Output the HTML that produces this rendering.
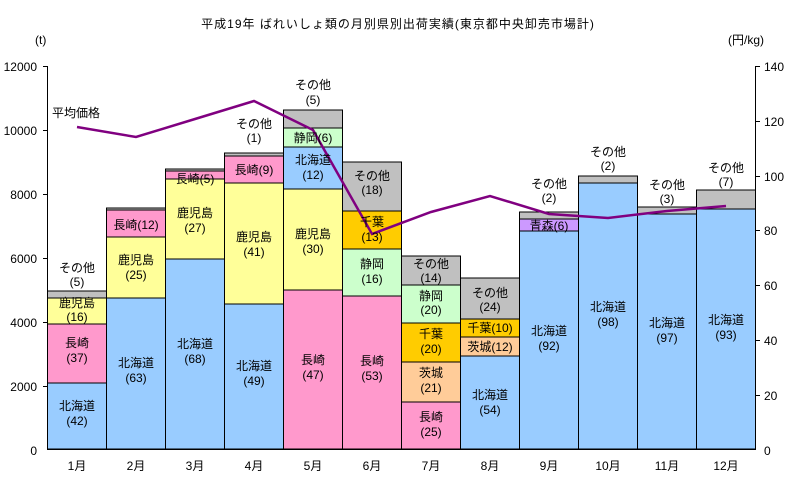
<!DOCTYPE html><html><head><meta charset="utf-8"><style>
body{margin:0;background:#fff}
text{font-family:"Liberation Sans","Noto Sans CJK JP",sans-serif;font-size:12px;fill:#000}
</style></head><body>
<svg width="792" height="488" xmlns="http://www.w3.org/2000/svg">
<text x="398" y="28" text-anchor="middle" font-size="14" letter-spacing="1">平成19年 ばれいしょ類の月別県別出荷実績(東京都中央卸売市場計)</text>
<text x="35" y="44" font-size="11">(t)</text>
<text x="728" y="44" font-size="11">(円/kg)</text>
<g stroke="#000" stroke-width="1">
<line x1="47.5" y1="66" x2="47.5" y2="450"/>
<line x1="755.5" y1="66" x2="755.5" y2="450"/>
<line x1="47" y1="449.5" x2="756" y2="449.5"/>
<line x1="43" y1="66.5" x2="47" y2="66.5"/><line x1="43" y1="130.5" x2="47" y2="130.5"/><line x1="43" y1="194.5" x2="47" y2="194.5"/><line x1="43" y1="258.5" x2="47" y2="258.5"/><line x1="43" y1="322.5" x2="47" y2="322.5"/><line x1="43" y1="386.5" x2="47" y2="386.5"/>
<line x1="756" y1="66.5" x2="760" y2="66.5"/><line x1="756" y1="121.5" x2="760" y2="121.5"/><line x1="756" y1="176.5" x2="760" y2="176.5"/><line x1="756" y1="230.5" x2="760" y2="230.5"/><line x1="756" y1="285.5" x2="760" y2="285.5"/><line x1="756" y1="340.5" x2="760" y2="340.5"/><line x1="756" y1="395.5" x2="760" y2="395.5"/>
</g>
<g text-anchor="end"><text x="37" y="71">12000</text><text x="37" y="135">10000</text><text x="37" y="199">8000</text><text x="37" y="263">6000</text><text x="37" y="327">4000</text><text x="37" y="391">2000</text><text x="37" y="455">0</text></g>
<g><text x="764" y="71">140</text><text x="764" y="126">120</text><text x="764" y="181">100</text><text x="764" y="235">80</text><text x="764" y="290">60</text><text x="764" y="345">40</text><text x="764" y="400">20</text><text x="764" y="455">0</text></g>
<g stroke="#000" stroke-width="1">
<rect x="47.5" y="383" width="59" height="66" fill="#99CCFF"/><rect x="47.5" y="324" width="59" height="59" fill="#FF99CC"/><rect x="47.5" y="298" width="59" height="26" fill="#FFFF99"/><rect x="47.5" y="291" width="59" height="7" fill="#C0C0C0"/>
<rect x="106.5" y="298" width="59" height="151" fill="#99CCFF"/><rect x="106.5" y="237" width="59" height="61" fill="#FFFF99"/><rect x="106.5" y="210" width="59" height="27" fill="#FF99CC"/><rect x="106.5" y="208" width="59" height="2" fill="#C0C0C0"/>
<rect x="165.5" y="259" width="59" height="190" fill="#99CCFF"/><rect x="165.5" y="179" width="59" height="80" fill="#FFFF99"/><rect x="165.5" y="171" width="59" height="8" fill="#FF99CC"/><rect x="165.5" y="169" width="59" height="2" fill="#C0C0C0"/>
<rect x="224.5" y="304" width="59" height="145" fill="#99CCFF"/><rect x="224.5" y="183" width="59" height="121" fill="#FFFF99"/><rect x="224.5" y="156" width="59" height="27" fill="#FF99CC"/><rect x="224.5" y="153" width="59" height="3" fill="#C0C0C0"/>
<rect x="283.5" y="290" width="59" height="159" fill="#FF99CC"/><rect x="283.5" y="189" width="59" height="101" fill="#FFFF99"/><rect x="283.5" y="147" width="59" height="42" fill="#99CCFF"/><rect x="283.5" y="128" width="59" height="19" fill="#CCFFCC"/><rect x="283.5" y="110" width="59" height="18" fill="#C0C0C0"/>
<rect x="342.5" y="296" width="59" height="153" fill="#FF99CC"/><rect x="342.5" y="249" width="59" height="47" fill="#CCFFCC"/><rect x="342.5" y="211" width="59" height="38" fill="#FFCC00"/><rect x="342.5" y="162" width="59" height="49" fill="#C0C0C0"/>
<rect x="401.5" y="402" width="59" height="47" fill="#FF99CC"/><rect x="401.5" y="362" width="59" height="40" fill="#FFCC99"/><rect x="401.5" y="323" width="59" height="39" fill="#FFCC00"/><rect x="401.5" y="285" width="59" height="38" fill="#CCFFCC"/><rect x="401.5" y="256" width="59" height="29" fill="#C0C0C0"/>
<rect x="460.5" y="356" width="59" height="93" fill="#99CCFF"/><rect x="460.5" y="337" width="59" height="19" fill="#FFCC99"/><rect x="460.5" y="319" width="59" height="18" fill="#FFCC00"/><rect x="460.5" y="278" width="59" height="41" fill="#C0C0C0"/>
<rect x="519.5" y="231" width="59" height="218" fill="#99CCFF"/><rect x="519.5" y="219" width="59" height="12" fill="#CC99FF"/><rect x="519.5" y="212" width="59" height="7" fill="#C0C0C0"/>
<rect x="578.5" y="183" width="59" height="266" fill="#99CCFF"/><rect x="578.5" y="176" width="59" height="7" fill="#C0C0C0"/>
<rect x="637.5" y="214" width="59" height="235" fill="#99CCFF"/><rect x="637.5" y="207" width="59" height="7" fill="#C0C0C0"/>
<rect x="696.5" y="209" width="59" height="240" fill="#99CCFF"/><rect x="696.5" y="190" width="59" height="19" fill="#C0C0C0"/>
</g>
<polyline fill="none" stroke="#800080" stroke-width="2.5" points="77,127 136,137 195,119 254,101 313,130 372,234 431,212 490,196 549,214 608,218 667,211 726,206"/>
<text x="52" y="117">平均価格</text>
<g text-anchor="middle" font-size="12">
<text x="77" y="272">その他</text><text x="77" y="286">(5)</text>
<text x="77" y="307">鹿児島</text><text x="77" y="321">(16)</text>
<text x="77" y="347">長崎</text><text x="77" y="362">(37)</text>
<text x="77" y="410">北海道</text><text x="77" y="425">(42)</text>
<text x="136" y="229">長崎(12)</text>
<text x="136" y="264">鹿児島</text><text x="136" y="279">(25)</text>
<text x="136" y="367">北海道</text><text x="136" y="382">(63)</text>
<text x="195" y="183">長崎(5)</text>
<text x="195" y="217">鹿児島</text><text x="195" y="232">(27)</text>
<text x="195" y="348">北海道</text><text x="195" y="363">(68)</text>
<text x="254" y="128">その他</text><text x="254" y="142">(1)</text>
<text x="254" y="174">長崎(9)</text>
<text x="254" y="241">鹿児島</text><text x="254" y="256">(41)</text>
<text x="254" y="370">北海道</text><text x="254" y="385">(49)</text>
<text x="313" y="89">その他</text><text x="313" y="104">(5)</text>
<text x="313" y="142">静岡(6)</text>
<text x="313" y="164">北海道</text><text x="313" y="179">(12)</text>
<text x="313" y="238">鹿児島</text><text x="313" y="253">(30)</text>
<text x="313" y="364">長崎</text><text x="313" y="379">(47)</text>
<text x="372" y="180">その他</text><text x="372" y="194">(18)</text>
<text x="372" y="226">千葉</text><text x="372" y="241">(13)</text>
<text x="372" y="268">静岡</text><text x="372" y="283">(16)</text>
<text x="372" y="365">長崎</text><text x="372" y="380">(53)</text>
<text x="431" y="268">その他</text><text x="431" y="282">(14)</text>
<text x="431" y="300">静岡</text><text x="431" y="314">(20)</text>
<text x="431" y="338">千葉</text><text x="431" y="353">(20)</text>
<text x="431" y="377">茨城</text><text x="431" y="392">(21)</text>
<text x="431" y="421">長崎</text><text x="431" y="436">(25)</text>
<text x="490" y="297">その他</text><text x="490" y="311">(24)</text>
<text x="490" y="332">千葉(10)</text>
<text x="490" y="351">茨城(12)</text>
<text x="490" y="399">北海道</text><text x="490" y="414">(54)</text>
<text x="549" y="188">その他</text><text x="549" y="202">(2)</text>
<text x="549" y="230">青森(6)</text>
<text x="549" y="335">北海道</text><text x="549" y="350">(92)</text>
<text x="608" y="156">その他</text><text x="608" y="170">(2)</text>
<text x="608" y="311">北海道</text><text x="608" y="326">(98)</text>
<text x="667" y="189">その他</text><text x="667" y="203">(3)</text>
<text x="667" y="327">北海道</text><text x="667" y="342">(97)</text>
<text x="726" y="172">その他</text><text x="726" y="186">(7)</text>
<text x="726" y="324">北海道</text><text x="726" y="339">(93)</text>
</g>
<g text-anchor="middle">
<text x="77" y="470">1月</text><text x="136" y="470">2月</text><text x="195" y="470">3月</text><text x="254" y="470">4月</text><text x="313" y="470">5月</text><text x="372" y="470">6月</text><text x="431" y="470">7月</text><text x="490" y="470">8月</text><text x="549" y="470">9月</text><text x="608" y="470">10月</text><text x="667" y="470">11月</text><text x="726" y="470">12月</text>
</g>
</svg>
</body></html>
